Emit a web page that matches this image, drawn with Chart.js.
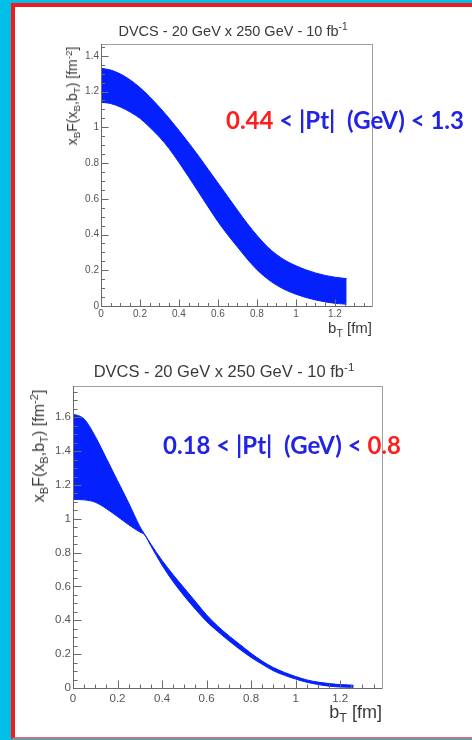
<!DOCTYPE html>
<html lang="en">
<head>
<meta charset="UTF-8">
<title>DVCS b_T profiles</title>
<script src="https://cdn.jsdelivr.net/npm/chart.js"></script>
<style>
    html, body { margin: 0; padding: 0; }
    body { width: 472px; height: 740px; overflow: hidden; background: #00bfe9; position: relative; font-family: "Liberation Sans", Arial, sans-serif; }
    .panel { position: absolute; left: 11px; top: 3px; width: 600px; height: 730px; background: #fff;
              border-top: 4px solid #f01c1c; border-left: 4px solid #f01c1c; border-bottom: 2px solid #e86a6a; }
    canvas { position: absolute; left: 0; }
    .lbl { position: absolute; white-space: nowrap; color: #3a3a3a; line-height: 1; }
    .lbl sub, .lbl sup { font-size: 70%; line-height: 0; position: relative; vertical-align: baseline; }
    .lbl sub { top: 0.35em; }
    .lbl sup { top: -0.55em; }
    .rot { transform: translate(-50%, -50%) rotate(-90deg); }
    .note { position: absolute; white-space: nowrap; font-family: Lato, "Open Sans", sans-serif; font-weight: bold; line-height: 1; color: #2323e4; }
    .note .r { color: #ff1e1e; }
</style>
</head>
<body>
<div class="panel"></div>

<canvas id="chartTop" width="472" height="345" style="top:0"></canvas>
<canvas id="chartBottom" width="472" height="400" style="top:340px"></canvas>

<!-- titres / axes en texte HTML (indices et exposants) -->
<div class="lbl" style="left:233px; top:24px; font-size:14.5px; transform:translateX(-50%)">DVCS - 20 GeV x 250 GeV - 10 fb<sup>-1</sup></div>
<div class="lbl rot" style="left:72px; top:96px; font-size:14px">x<sub>B</sub>F(x<sub>B</sub>,b<sub>T</sub>) [fm<sup>-2</sup>]</div>
<div class="lbl" style="right:100px; top:320px; font-size:15px">b<sub>T</sub> [fm]</div>
<div class="note" style="left:226px; top:108px; font-size:24px"><span class="r">0.44</span> &lt; |Pt|&nbsp; (GeV) &lt; 1.3</div>

<div class="lbl" style="left:224px; top:363px; font-size:16.5px; transform:translateX(-50%)">DVCS - 20 GeV x 250 GeV - 10 fb<sup>-1</sup></div>
<div class="lbl rot" style="left:39px; top:446px; font-size:16px">x<sub>B</sub>F(x<sub>B</sub>,b<sub>T</sub>) [fm<sup>-2</sup>]</div>
<div class="lbl" style="right:90px; top:703px; font-size:18px">b<sub>T</sub> [fm]</div>
<div class="note" style="left:163px; top:433px; font-size:24px">0.18 &lt; |Pt|&nbsp; (GeV) &lt; <span class="r">0.8</span></div>

<script>
    // ---- données ----
    // graphe du haut : 0.44 < |Pt| < 1.3
    const bTop = [0, 0.05, 0.1, 0.15, 0.2, 0.25, 0.3, 0.35, 0.4, 0.45, 0.5, 0.55, 0.6, 0.65, 0.7,
                  0.75, 0.8, 0.85, 0.9, 0.95, 1.0, 1.05, 1.1, 1.15, 1.2, 1.26];
    const upperTop = [1.33, 1.32, 1.298, 1.265, 1.222, 1.17, 1.112, 1.049, 0.982, 0.912, 0.84, 0.764, 0.688, 0.612, 0.536,
                      0.462, 0.395, 0.335, 0.288, 0.252, 0.225, 0.203, 0.185, 0.171, 0.161, 0.153];
    const lowerTop = [1.14, 1.133, 1.113, 1.085, 1.05, 1.0, 0.945, 0.88, 0.803, 0.722, 0.638, 0.554, 0.472, 0.398, 0.33,
                      0.263, 0.203, 0.155, 0.117, 0.088, 0.066, 0.048, 0.034, 0.023, 0.015, 0.01];

    // graphe du bas : 0.18 < |Pt| < 0.8
    const bBottom = [0, 0.05, 0.1, 0.15, 0.2, 0.25, 0.3, 0.32, 0.35, 0.4, 0.45, 0.5, 0.55, 0.6, 0.65, 0.7,
                     0.75, 0.8, 0.85, 0.9, 0.95, 1.0, 1.05, 1.1, 1.15, 1.2, 1.26];
    const upperBottom = [1.62, 1.59, 1.487, 1.357, 1.225, 1.094, 0.955, 0.912, 0.85, 0.754, 0.669, 0.59, 0.511, 0.432, 0.366, 0.309,
                         0.257, 0.205, 0.159, 0.121, 0.092, 0.068, 0.048, 0.035, 0.026, 0.02, 0.016];
    const lowerBottom = [1.115, 1.112, 1.098, 1.06, 1.013, 0.965, 0.922, 0.908, 0.84, 0.726, 0.628, 0.543, 0.465, 0.393, 0.334, 0.279,
                         0.228, 0.181, 0.14, 0.102, 0.075, 0.053, 0.034, 0.021, 0.011, 0.006, 0.004];

    // graduations
    const xTicks = [0, 0.2, 0.4, 0.6, 0.8, 1, 1.2];
    const yTicksTop = [0, 0.2, 0.4, 0.6, 0.8, 1, 1.2, 1.4];
    const yTicksBottom = [0, 0.2, 0.4, 0.6, 0.8, 1, 1.2, 1.4, 1.6];
    const minorStep = 0.05;

    const bandColor = 'rgb(4, 32, 252)';

    // Cadre + graduations vers l'intérieur (style ROOT)
    const rootAxes = {
        id: 'rootAxes',
        afterDraw(chart, args, opts) {
            const { ctx, chartArea: a, scales: { x, y } } = chart;
            ctx.save();
            ctx.lineWidth = 1;
            ctx.strokeStyle = '#a0a0a0';
            ctx.strokeRect(Math.round(a.left) + 0.5, Math.round(a.top) + 0.5,
                Math.round(a.right - a.left), Math.round(a.bottom - a.top));
            ctx.strokeStyle = '#6a6a6a';
            ctx.beginPath();
            const x0 = Math.round(a.left) + 0.5, y0 = Math.round(a.bottom) + 0.5;
            ctx.moveTo(x0, a.top); ctx.lineTo(x0, y0); ctx.lineTo(a.right, y0);
            for (let i = 0; i * minorStep <= x.max + 1e-9; i++) {
                const px = Math.round(x.getPixelForValue(i * minorStep)) + 0.5;
                const len = i % 4 === 0 ? opts.major : opts.minor;
                ctx.moveTo(px, y0); ctx.lineTo(px, y0 - len);
            }
            for (let i = 0; i * minorStep <= y.max + 1e-9; i++) {
                const py = Math.round(y.getPixelForValue(i * minorStep)) + 0.5;
                const len = i % 4 === 0 ? opts.major : opts.minor;
                ctx.moveTo(x0, py); ctx.lineTo(x0 + len, py);
            }
            ctx.stroke();
            ctx.restore();
        }
    };

    function makeChart(id, bT, lower, upper, yTicks, cfg) {
        return new Chart(document.getElementById(id), {
            type: 'line',
            data: {
                datasets: [
                    {
                        data: bT.map((b, i) => ({ x: b, y: lower[i] })),
                        borderColor: bandColor, borderWidth: 1, pointRadius: 0,
                        fill: false, cubicInterpolationMode: 'monotone'
                    },
                    {
                        data: bT.map((b, i) => ({ x: b, y: upper[i] })),
                        borderColor: bandColor, borderWidth: 1, pointRadius: 0,
                        backgroundColor: bandColor, fill: '-1', cubicInterpolationMode: 'monotone'
                    }
                ]
            },
            options: {
                responsive: false,
                animation: false,
                events: [],
                layout: { padding: { top: cfg.top, right: cfg.right, left: 0, bottom: 0 } },
                plugins: {
                    legend: { display: false },
                    tooltip: { enabled: false },
                    rootAxes: { major: cfg.major, minor: cfg.minor }
                },
                scales: {
                    x: {
                        type: 'linear', min: 0, max: cfg.xMax,
                        grid: { display: false, drawTicks: false, tickLength: 0 }, border: { display: false },
                        ticks: { padding: cfg.xPad, color: '#555', font: { family: 'Liberation Sans', size: cfg.font }, maxRotation: 0, callback: v => String(v) },
                        afterBuildTicks: s => { s.ticks = xTicks.map(v => ({ value: v })); },
                        afterFit: s => { s.height = cfg.xAxisH; }
                    },
                    y: {
                        min: 0, max: cfg.yMax,
                        grid: { display: false, drawTicks: false, tickLength: 0 }, border: { display: false },
                        ticks: { padding: 2, color: '#555', font: { family: 'Liberation Sans', size: cfg.font }, callback: v => String(v) },
                        afterBuildTicks: s => { s.ticks = yTicks.map(v => ({ value: v })); },
                        afterFit: s => { s.width = cfg.yAxisW; }
                    }
                }
            },
            plugins: [rootAxes]
        });
    }

    makeChart('chartTop', bTop, lowerTop, upperTop, yTicksTop, {
        top: 44, right: 100, yAxisW: 101, xAxisH: 39, xMax: 1.39, yMax: 1.466,
        font: 10, xPad: 2, major: 7, minor: 3.5
    });
    makeChart('chartBottom', bBottom, lowerBottom, upperBottom, yTicksBottom, {
        top: 46, right: 90, yAxisW: 73, xAxisH: 52, xMax: 1.388, yMax: 1.785,
        font: 11.5, xPad: 4, major: 8, minor: 4
    });
</script>
</body>
</html>
